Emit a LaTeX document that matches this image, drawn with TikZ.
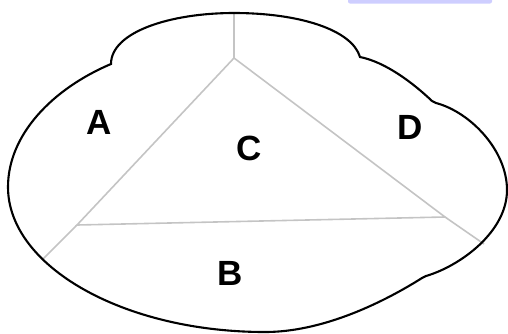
\documentclass[tikz,border=0pt]{standalone}
\usepackage{fontspec}
\setmainfont{Liberation Sans}
\definecolor{divgray}{RGB}{196,196,196}
\definecolor{stripblue}{RGB}{206,206,255}
\tikzset{
  outline/.style={draw=black, line width=2.1pt, line join=miter},
  divider/.style={draw=divgray, line width=1.6pt},
  region/.style={font=\bfseries\fontsize{35}{35}\selectfont, inner sep=0pt}
}
\begin{document}
\begin{tikzpicture}[x=1pt,y=-1pt]
\useasboundingbox (0,0) rectangle (508,333);
\fill[stripblue, rounded corners=2pt] (348,-3) rectangle (492,3.5);
% triangle vertices and boundary ends
\coordinate (T) at (234,58);
\coordinate (L) at (77,225);
\coordinate (R) at (445,217);
\coordinate (Tb) at (234,13);
\coordinate (Lb) at (42,260);
\coordinate (Rb) at (484,244);
\draw[divider] (T) -- (Tb);
\draw[divider] (L) -- (Lb);
\draw[divider] (R) -- (Rb);
\draw[divider] (T) -- (L) -- (R) -- cycle;
% outline
\draw[outline]
  (111,64) .. controls (52,89) and (8,135) .. (8,187)
  .. controls (8,266) and (123,332) .. (265,332)
  .. controls (330,332) and (395,295) .. (422,278)
  -- (426,276)
  .. controls (460,266) and (507,232) .. (507,190)
  .. controls (507,150) and (470,112) .. (436,103)
  -- (432,101)
  .. controls (412,82) and (385,62) .. (360,57)
  .. controls (352,30) and (300,13) .. (234,13)
  .. controls (170,13) and (111,32) .. (111,64)
  -- cycle;
\node[region] (A) at (99,122) {A};
\node[region] (C) at (249,148) {C};
\node[region] (D) at (410,127) {D};
\node[region] (B) at (230,273) {B};
\end{tikzpicture}
\end{document}
